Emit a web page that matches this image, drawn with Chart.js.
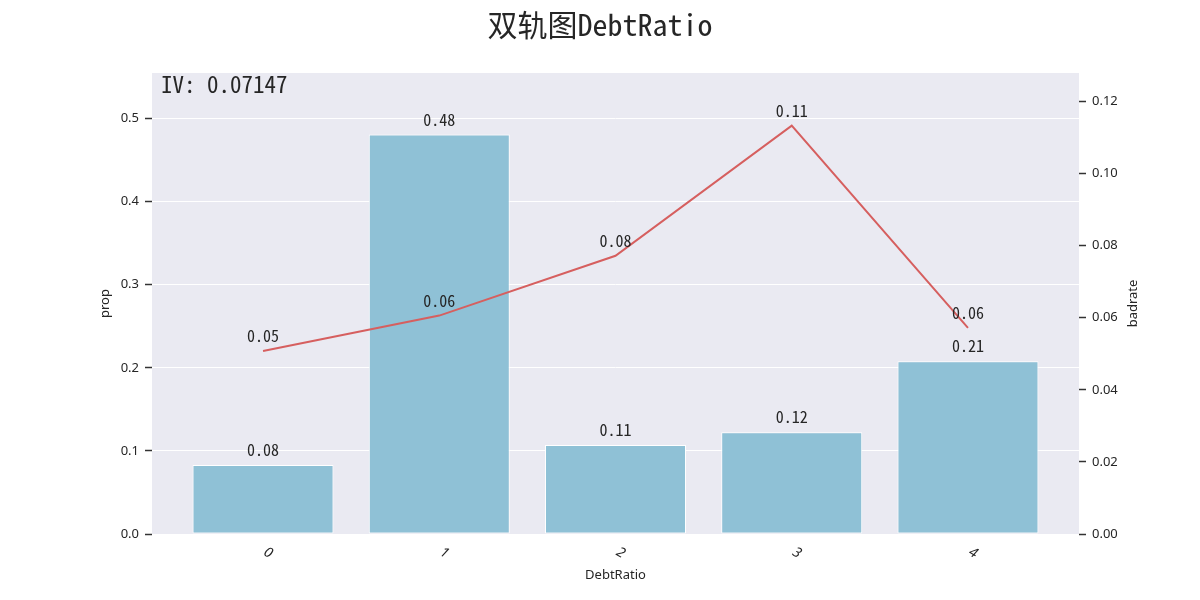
<!DOCTYPE html>
<html>
<head>
<meta charset="utf-8">
<script src="https://cdn.jsdelivr.net/npm/chart.js@4/dist/chart.umd.min.js"></script>
<style>
  html, body { margin: 0; padding: 0; background: #ffffff; }
  #wrap { width: 1200px; height: 600px; position: relative; }
</style>
</head>
<body>
<div id="wrap"><canvas id="c" width="1200" height="600"></canvas></div>
<script>
// ---- data ----
const categories = ['0', '1', '2', '3', '4'];
const propValues = [0.0829, 0.4808, 0.1070, 0.1226, 0.2079];
const badrateValues = [0.0508, 0.0606, 0.0772, 0.1133, 0.0572];
const leftTicks = [0.0, 0.1, 0.2, 0.3, 0.4, 0.5];
const rightTicks = [0.00, 0.02, 0.04, 0.06, 0.08, 0.10, 0.12];
const ivText = 'IV: 0.07147';
const titleText = '双轨图DebtRatio';
const xTitle = 'DebtRatio';
const yLeftTitle = 'prop';
const yRightTitle = 'badrate';

const MONO = '"Noto Sans Mono CJK SC", "Noto Sans CJK SC", "DejaVu Sans Mono", monospace';
const SANS = '"Noto Sans", "DejaVu Sans", sans-serif';
const TEXT = '#262626';

const barData = categories.map((c, i) => ({ x: i, y: propValues[i] }));
const lineData = categories.map((c, i) => ({ x: i, y: badrateValues[i] }));

const decorPlugin = {
  id: 'decor',
  beforeDraw(chart) {
    const { ctx, chartArea: a } = chart;
    ctx.save();
    ctx.fillStyle = '#eaeaf2';
    ctx.fillRect(a.left, a.top, a.right - a.left, a.bottom - a.top);
    ctx.restore();
  },
  afterDatasetsDraw(chart) {
    const { ctx, chartArea: a } = chart;
    const xs = chart.scales.x;
    ctx.save();
    ctx.fillStyle = TEXT;
    // value labels
    ctx.font = '16px ' + MONO;
    ctx.textAlign = 'center';
    ctx.textBaseline = 'bottom';
    [0, 1].forEach(di => {
      const meta = chart.getDatasetMeta(di);
      const vals = di === 0 ? propValues : badrateValues;
      meta.data.forEach((el, i) => {
        ctx.fillText(vals[i].toFixed(2), el.x, el.y - 7);
      });
    });
    // IV text
    ctx.font = '23px ' + MONO;
    ctx.textAlign = 'left';
    ctx.textBaseline = 'middle';
    ctx.fillText(ivText, a.left + 9, a.top + 11);
    // x tick labels (rotated clockwise)
    ctx.font = 'italic 14px ' + SANS;
    ctx.textAlign = 'center';
    ctx.textBaseline = 'middle';
    categories.forEach((c, i) => {
      const px = xs.getPixelForValue(i);
      ctx.save();
      ctx.translate(px + 5, a.bottom + 19);
      ctx.rotate(Math.PI / 6);
      ctx.fillText(c, 0, 0);
      ctx.restore();
    });
    // axis titles
    ctx.font = '13px ' + SANS;
    ctx.textAlign = 'center';
    ctx.textBaseline = 'middle';
    ctx.fillText(xTitle, (a.left + a.right) / 2, 575);
    const cy = (a.top + a.bottom) / 2;
    ctx.save();
    ctx.translate(105, cy);
    ctx.rotate(-Math.PI / 2);
    ctx.fillText(yLeftTitle, 0, 0);
    ctx.restore();
    ctx.save();
    ctx.translate(1133, cy);
    ctx.rotate(-Math.PI / 2);
    ctx.fillText(yRightTitle, 0, 0);
    ctx.restore();
    ctx.restore();
  }
};

new Chart(document.getElementById('c'), {
  type: 'bar',
  data: {
    datasets: [
      {
        type: 'bar',
        label: 'prop',
        data: barData,
        yAxisID: 'y',
        backgroundColor: '#8fc1d6',
        borderColor: '#ffffff',
        borderWidth: 1,
        borderSkipped: false,
        barPercentage: 0.8,
        categoryPercentage: 1.0,
        order: 2
      },
      {
        type: 'line',
        label: 'badrate',
        data: lineData,
        yAxisID: 'y1',
        borderColor: '#d65f5f',
        borderWidth: 2,
        pointRadius: 0,
        tension: 0,
        fill: false,
        order: 1
      }
    ]
  },
  options: {
    responsive: false,
    animation: false,
    devicePixelRatio: 1,
    layout: { padding: { left: 0, right: 0, top: 0, bottom: 0 } },
    plugins: {
      legend: { display: false },
      tooltip: { enabled: false },
      title: {
        display: true,
        text: titleText,
        color: TEXT,
        font: { family: MONO, size: 30, weight: 'normal', lineHeight: 1.2 },
        padding: { top: 7, bottom: 30 }
      }
    },
    scales: {
      x: {
        type: 'linear',
        min: -0.63,
        max: 4.63,
        offset: false,
        grid: { display: false },
        border: { display: false },
        ticks: { stepSize: 1, includeBounds: false, color: 'rgba(0,0,0,0)' },
        afterFit(s) { s.height = 66; }
      },
      y: {
        position: 'left',
        min: 0,
        max: 0.5548,
        afterBuildTicks(s) { s.ticks = leftTicks.map(v => ({ value: v })); },
        ticks: {
          color: TEXT,
          font: { family: SANS, size: 13 },
          padding: 6,
          callback: v => v.toFixed(1)
        },
        grid: {
          color: '#ffffff',
          lineWidth: 1,
          drawTicks: true,
          tickLength: 7,
          tickColor: '#333333',
          tickWidth: 1.5
        },
        border: { display: false },
        afterFit(s) { s.width = 152; }
      },
      y1: {
        position: 'right',
        min: 0,
        max: 0.1279,
        afterBuildTicks(s) { s.ticks = rightTicks.map(v => ({ value: v })); },
        ticks: {
          color: TEXT,
          font: { family: SANS, size: 13 },
          padding: 6,
          callback: v => v.toFixed(2)
        },
        grid: {
          drawOnChartArea: false,
          drawTicks: true,
          tickLength: 7,
          tickColor: '#333333',
          tickWidth: 1.5
        },
        border: { display: false },
        afterFit(s) { s.width = 121; }
      }
    }
  },
  plugins: [decorPlugin]
});
</script>
</body>
</html>
